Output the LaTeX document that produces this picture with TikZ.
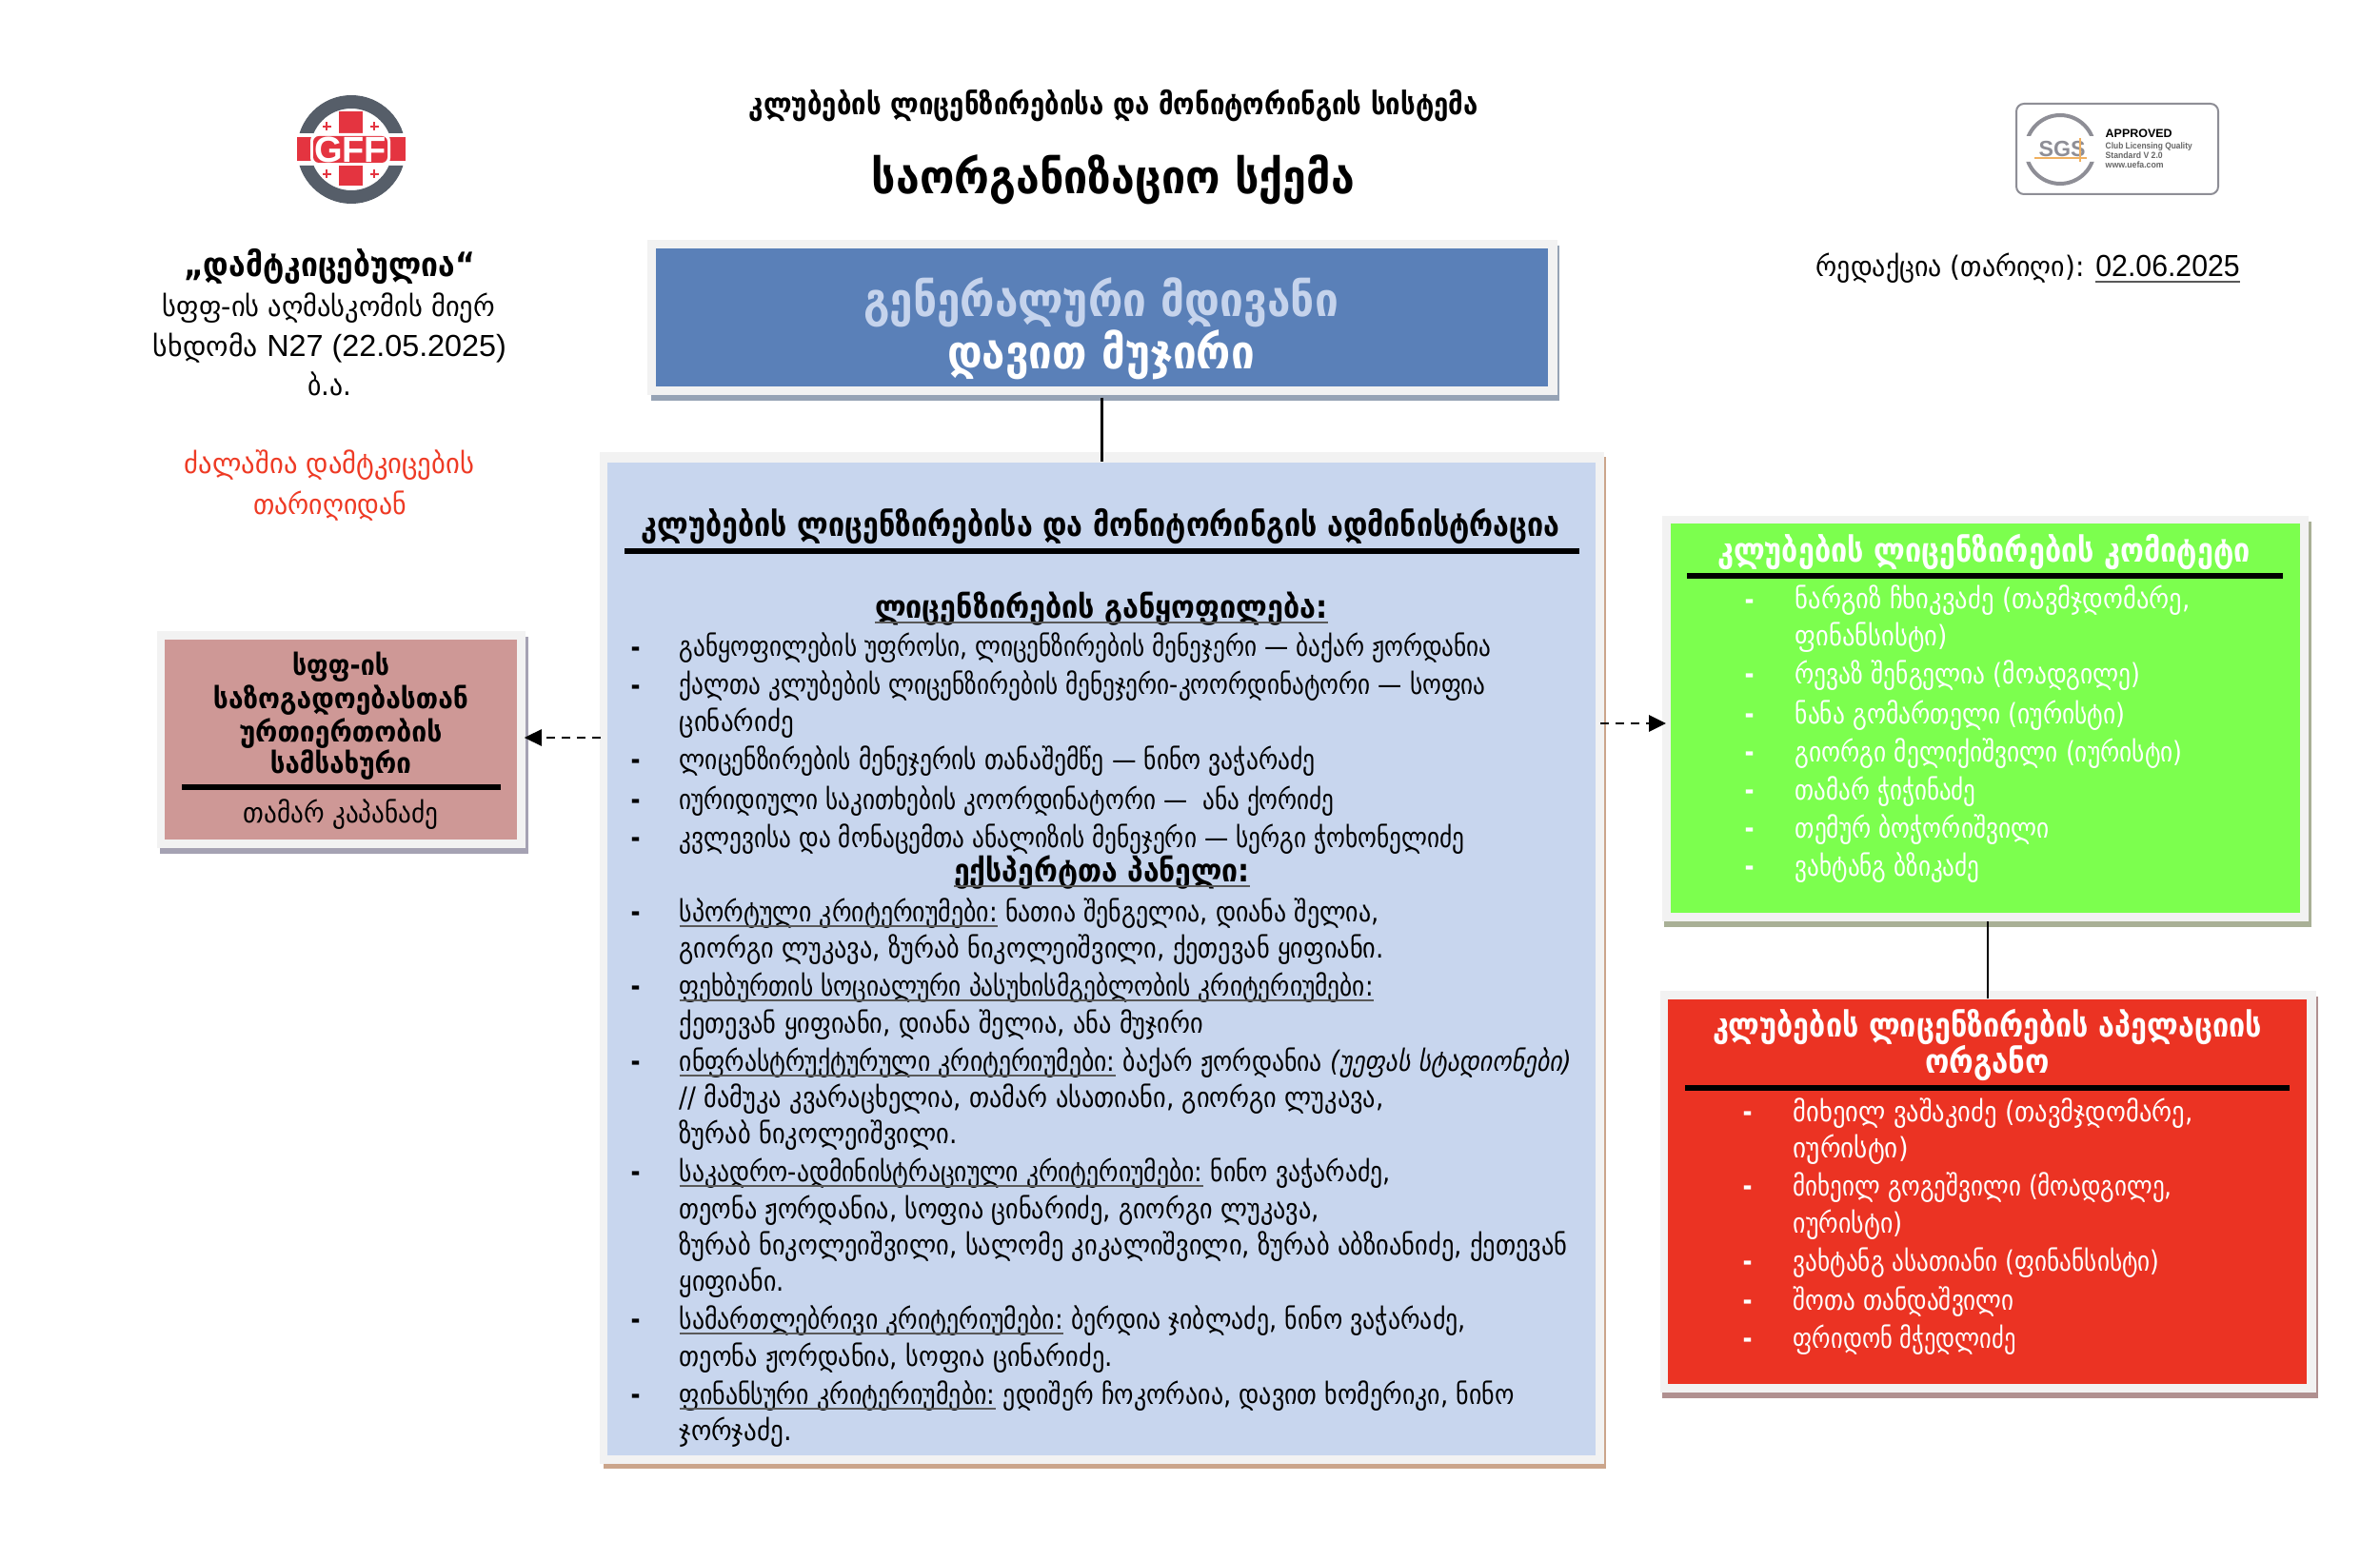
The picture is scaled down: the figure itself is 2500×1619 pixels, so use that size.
\documentclass[tikz,border=0pt]{standalone}
\usepackage{fontspec}
\usepackage{graphicx}
\usetikzlibrary{arrows.meta}
\setmainfont{DejaVu Sans}
\newfontfamily\lat{Liberation Sans}
\newdimen\px \px=0.01cm
\newcommand\fw[2]{\resizebox{\dimexpr#1\px\relax}{\height}{\strut #2}}
\newcommand\ulx[1]{{\color{black!65}\underline{\smash{\color{black}#1}}}}
\newcommand\fs[1]{\fontsize{#1}{#1}\selectfont}
\newcommand\dg[1]{{\lat\fs{9.1}#1}}
% centred line: name, cx, baseline, width, style options, text
\newcommand\cl[6]{\node[ctr,#5] (#1) at (#2,#3) {\fw{#4}{#6}};}
% body line: name, x, baseline, end x, colour, text
\newcommand\bl[6]{\node[txt,text=#5] (#1) at (#2,#3) {\fw{\numexpr#4-#2\relax}{#6}};}
\newcommand\dsh[4]{\node[txt,text=#4] (#1) at (#2,#3) {\fw{10}{\bfseries -}};}
\definecolor{paleframe}{HTML}{F2F2F2}
\definecolor{cblue}{HTML}{5A80B8}
\definecolor{cbluetxt}{HTML}{C5D3EC}
\definecolor{cbluesh}{HTML}{96A3B5}
\definecolor{cadmin}{HTML}{C8D6EE}
\definecolor{cadminsh}{HTML}{CBA58B}
\definecolor{cpink}{HTML}{CE9896}
\definecolor{cpinksh}{HTML}{A5A2B3}
\definecolor{cgreen}{HTML}{7CFF4E}
\definecolor{cgreensh}{HTML}{A9B096}
\definecolor{cred}{HTML}{EB3323}
\definecolor{credsh}{HTML}{B09090}
\definecolor{cwarn}{HTML}{EE3A24}
\definecolor{cring}{HTML}{565E69}
\definecolor{ccross}{HTML}{E43440}
\definecolor{csgs}{HTML}{8E8E96}
\definecolor{corange}{HTML}{F0B060}
\tikzset{
  txt/.style={anchor=base west,inner sep=0pt,yshift=-0.03cm,font=\fs{8.4}},
  ctr/.style={anchor=base,inner sep=0pt,yshift=-0.03cm,align=center,font=\fs{8.4}},
  small/.style={anchor=base west,inner sep=0pt,text=black!60,font=\lat\bfseries\fs{2.65}},
  panel/.style={rectangle,inner sep=0pt,draw=none},
  link/.style={line width=0.025cm,black},
  dashlink/.style={link,line width=0.028cm,dash pattern=on 0.09cm off 0.07cm,-{Triangle[length=0.18cm,width=0.17cm]}},
  rulex/.style={line width=0.06cm,black},
}
\begin{document}
\begin{tikzpicture}[x=0.01cm,y=-0.01cm]
\fill[white] (0,0) rectangle (2500,1619);
\useasboundingbox (0,0) rectangle (2500,1619);

% frames and shadows
\fill[cbluesh] (684,258) rectangle (1638,421);
\fill[paleframe] (680,252) rectangle (1636,415);
\fill[cadminsh] (634,480) rectangle (1687,1543);
\fill[paleframe] (630,475) rectangle (1685,1538);
\fill[cpinksh] (168,669) rectangle (555,897);
\fill[paleframe] (165,663) rectangle (552,891);
\fill[cgreensh] (1748,548) rectangle (2428,974);
\fill[paleframe] (1746,542) rectangle (2425,968);
\fill[credsh] (1746,1047) rectangle (2435,1469);
\fill[paleframe] (1744,1041) rectangle (2433,1463);

% panels
\node[panel,fill=cblue,minimum width=9.37cm,minimum height=1.45cm] (gensec) at (1157.5,333.5) {};
\node[panel,fill=cadmin,minimum width=10.38cm,minimum height=10.43cm] (admin) at (1157,1007.5) {};
\node[panel,fill=cpink,minimum width=3.70cm,minimum height=2.10cm] (pr) at (358,777) {};
\node[panel,fill=cgreen,minimum width=6.61cm,minimum height=4.09cm] (committee) at (2085.5,754.5) {};
\node[panel,fill=cred,minimum width=6.71cm,minimum height=4.04cm] (appeal) at (2087.5,1252) {};

% connectors
\draw[link,shorten <=0.11cm] (gensec.south) -- (gensec.south |- admin.north);
\coordinate (prIn) at ([xshift=0.07cm,yshift=0.02cm]pr.east);
\draw[dashlink,shorten <=0.06cm] (prIn -| admin.west) -- (prIn);
\coordinate (comIn) at ([xshift=-0.04cm,yshift=-0.055cm]committee.west);
\draw[dashlink,shorten <=0.04cm] (comIn -| admin.east) -- (comIn);
\coordinate (comOut) at ([xshift=0.025cm]committee.south);
\draw[link,shorten <=0.08cm] (comOut) -- (comOut |- appeal.north);

% page titles
\cl{t1}{1170}{118}{766}{font=\bfseries\fs{9}}{კლუბების ლიცენზირებისა და მონიტორინგის სისტემა}
\cl{t2}{1169.5}{201}{507}{font=\bfseries\fs{14}}{საორგანიზაციო სქემა}
\cl{g1}{1156.5}{330}{499}{text=cbluetxt,font=\bfseries\fs{14}}{გენერალური მდივანი}
\cl{g2}{1156.5}{385}{323}{text=white,font=\bfseries\fs{14}}{დავით მუჯირი}

% approval block
\cl{ap1}{346}{288}{306}{font=\bfseries\fs{10}}{„დამტკიცებულია“}
\cl{ap2}{345.5}{330}{349}{}{სფფ-ის აღმასკომის მიერ}
\cl{ap3}{346.5}{372}{371}{}{სხდომა \dg{N27 (22.05.2025)}}
\cl{ap4}{346}{413}{46}{}{ბ.ა.}
\cl{ap5}{346}{495}{304}{text=cwarn}{ძალაშია დამტკიცების}
\cl{ap6}{346.5}{538}{161}{text=cwarn}{თარიღიდან}

% edition
\bl{ed}{1907}{288}{2352}{black}{რედაქცია (თარიღი): \ulx{\dg{02.06.2025}}}

% GFF logo
\begin{scope}
  \clip (300,90) rectangle (440,140) (300,174) rectangle (440,225);
  \fill[cring,even odd rule] (369,157) circle [radius=57] (369,157) circle [radius=43];
\end{scope}
\fill[ccross] (312,144) rectangle (426,169);
\fill[ccross] (356,117) rectangle (381,195);
\foreach \cx/\cy in {343/133,393/133,343/183,393/183}{
  \fill[ccross] (\cx-4.5,\cy-0.8) rectangle (\cx+4.5,\cy+0.8);
  \fill[ccross] (\cx-0.8,\cy-4.5) rectangle (\cx+0.8,\cy+4.5);
}
\fill[white,rounded corners=0.08cm] (326,140) rectangle (410,174);
\fill[ccross,rounded corners=0.06cm] (329,143) rectangle (407,171);
\node[anchor=base,inner sep=0pt,text=white,font=\lat\bfseries\fs{10.8}] (gff) at (368,171) {\fw{76}{GFF}};

% SGS badge
\draw[csgs,line width=0.02cm,fill=white,rounded corners=0.08cm] (2118,109) rectangle (2330,204);
\begin{scope}
  \clip (2120,111) rectangle (2210,143) (2120,170) rectangle (2210,202);
  \draw[csgs,line width=0.04cm] (2164,157) circle [radius=36];
\end{scope}
\node[anchor=base,inner sep=0pt,text=csgs,font=\lat\bfseries\fs{6.6}] (sgs) at (2166,165) {SGS};
\draw[corange,line width=0.012cm] (2137,166) -- (2192,166) (2185,145) -- (2185,170);
\node[anchor=base west,inner sep=0pt,font=\lat\bfseries\fs{3.5}] (ap) at (2211,145) {\fw{70}{APPROVED}};
\node[small] (club) at (2211,157) {\fw{91}{Club Licensing Quality}};
\node[small] (std) at (2211,167) {\fw{60}{Standard V 2.0}};
\node[small] (web) at (2211,177) {\fw{61}{www.uefa.com}};

% PR panel
\cl{pr1}{358}{706}{102}{font=\bfseries\fs{8.5}}{სფფ-ის}
\cl{pr2}{358}{741}{268}{font=\bfseries\fs{8.5}}{საზოგადოებასთან}
\cl{pr3}{358}{776}{213}{font=\bfseries\fs{8.5}}{ურთიერთობის}
\cl{pr4}{358}{809}{148}{font=\bfseries\fs{8.5}}{სამსახური}
\draw[rulex] (191,827) -- (526,827);
\cl{pr5}{358}{861}{205}{}{თამარ კაპანაძე}

% admin panel
\cl{a0}{1156.5}{560}{965}{font=\bfseries\fs{10}}{კლუბების ლიცენზირებისა და მონიტორინგის ადმინისტრაცია}
\draw[rulex] (656,579) -- (1659,579);
\cl{a1}{1157}{646}{476}{font=\bfseries\fs{9.5}}{\ulx{ლიცენზირების განყოფილება:}}
\dsh{d1}{662}{687}{black}\bl{b1}{713}{687}{1566}{black}{განყოფილების უფროსი, ლიცენზირების მენეჯერი — ბაქარ ჟორდანია}
\dsh{d2}{662}{727}{black}\bl{b2}{713}{727}{1560}{black}{ქალთა კლუბების ლიცენზირების მენეჯერი-კოორდინატორი — სოფია}
\bl{b3}{713}{765}{833}{black}{ცინარიძე}
\dsh{d4}{662}{805}{black}\bl{b4}{713}{805}{1381}{black}{ლიცენზირების მენეჯერის თანაშემწე — ნინო ვაჭარაძე}
\dsh{d5}{662}{847}{black}\bl{b5}{713}{847}{1401}{black}{იურიდიული საკითხების კოორდინატორი —\ \ ანა ქორიძე}
\dsh{d6}{662}{887}{black}\bl{b6}{713}{887}{1538}{black}{კვლევისა და მონაცემთა ანალიზის მენეჯერი — სერგი ჭოხონელიძე}
\cl{a2}{1157.5}{923}{311}{font=\bfseries\fs{9.5}}{\ulx{ექსპერტთა პანელი:}}
\dsh{d7}{662}{965}{black}\bl{b7}{713}{965}{1448}{black}{\ulx{სპორტული კრიტერიუმები:} ნათია შენგელია, დიანა შელია,}
\bl{b8}{713}{1003}{1453}{black}{გიორგი ლუკავა, ზურაბ ნიკოლეიშვილი, ქეთევან ყიფიანი.}
\dsh{d9}{662}{1043}{black}\bl{b9}{713}{1043}{1442}{black}{\ulx{ფეხბურთის სოციალური პასუხისმგებლობის კრიტერიუმები:}}
\bl{b10}{713}{1082}{1263}{black}{ქეთევან ყიფიანი, დიანა შელია, ანა მუჯირი}
\dsh{d11}{662}{1122}{black}\bl{b11}{713}{1122}{1650}{black}{\ulx{ინფრასტრუქტურული კრიტერიუმები:} ბაქარ ჟორდანია {\itshape(უეფას სტადიონები)}}
\bl{b12}{713}{1160}{1453}{black}{// მამუკა კვარაცხელია, თამარ ასათიანი, გიორგი ლუკავა,}
\bl{b13}{713}{1198}{1005}{black}{ზურაბ ნიკოლეიშვილი.}
\dsh{d14}{662}{1238}{black}\bl{b14}{713}{1238}{1460}{black}{\ulx{საკადრო-ადმინისტრაციული კრიტერიუმები:} ნინო ვაჭარაძე,}
\bl{b15}{713}{1277}{1385}{black}{თეონა ჟორდანია, სოფია ცინარიძე, გიორგი ლუკავა,}
\bl{b16}{713}{1315}{1646}{black}{ზურაბ ნიკოლეიშვილი, სალომე კიკალიშვილი, ზურაბ აბზიანიძე, ქეთევან}
\bl{b17}{713}{1353}{823}{black}{ყიფიანი.}
\dsh{d18}{662}{1393}{black}\bl{b18}{713}{1393}{1539}{black}{\ulx{სამართლებრივი კრიტერიუმები:} ბერდია ჯიბლაძე, ნინო ვაჭარაძე,}
\bl{b19}{713}{1432}{1168}{black}{თეონა ჟორდანია, სოფია ცინარიძე.}
\dsh{d20}{662}{1472}{black}\bl{b20}{713}{1472}{1590}{black}{\ulx{ფინანსური კრიტერიუმები:} ედიშერ ჩოკორაია, დავით ხომერიკი, ნინო}
\bl{b21}{713}{1510}{831}{black}{ჯორჯაძე.}

% committee panel
\cl{c0}{2084}{587}{560}{text=white,font=\bfseries\fs{10}}{კლუბების ლიცენზირების კომიტეტი}
\draw[rulex] (1772,605.5) -- (2398,605.5);
\dsh{e1}{1832}{637}{white}\bl{c1}{1885}{637}{2300}{white}{ნარგიზ ჩხიკვაძე (თავმჯდომარე,}
\bl{c2}{1885}{675}{2045}{white}{ფინანსისტი)}
\dsh{e3}{1832}{715}{white}\bl{c3}{1885}{715}{2248}{white}{რევაზ შენგელია (მოადგილე)}
\dsh{e4}{1832}{757}{white}\bl{c4}{1885}{757}{2232}{white}{ნანა გომართელი (იურისტი)}
\dsh{e5}{1832}{797}{white}\bl{c5}{1885}{797}{2292}{white}{გიორგი მელიქიშვილი (იურისტი)}
\dsh{e6}{1832}{837}{white}\bl{c6}{1885}{837}{2075}{white}{თამარ ჭიჭინაძე}
\dsh{e7}{1832}{877}{white}\bl{c7}{1885}{877}{2152}{white}{თემურ ბოჭორიშვილი}
\dsh{e8}{1832}{917}{white}\bl{c8}{1885}{917}{2079}{white}{ვახტანგ ბზიკაძე}

% appeal panel
\cl{r0}{2087.5}{1086}{577}{text=white,font=\bfseries\fs{10}}{კლუბების ლიცენზირების აპელაციის}
\cl{r00}{2087.5}{1124}{131}{text=white,font=\bfseries\fs{10}}{ორგანო}
\draw[rulex] (1770,1143) -- (2405,1143);
\dsh{f1}{1830}{1175}{white}\bl{r1}{1883}{1175}{2303}{white}{მიხეილ ვაშაკიძე (თავმჯდომარე,}
\bl{r2}{1883}{1213}{2004}{white}{იურისტი)}
\dsh{f3}{1830}{1253}{white}\bl{r3}{1883}{1253}{2281}{white}{მიხეილ გოგეშვილი (მოადგილე,}
\bl{r4}{1883}{1292}{1998}{white}{იურისტი)}
\dsh{f5}{1830}{1332}{white}\bl{r5}{1883}{1332}{2268}{white}{ვახტანგ ასათიანი (ფინანსისტი)}
\dsh{f6}{1830}{1373}{white}\bl{r6}{1883}{1373}{2115}{white}{შოთა თანდაშვილი}
\dsh{f7}{1830}{1413}{white}\bl{r7}{1883}{1413}{2117}{white}{ფრიდონ მჭედლიძე}
\end{tikzpicture}
\end{document}
